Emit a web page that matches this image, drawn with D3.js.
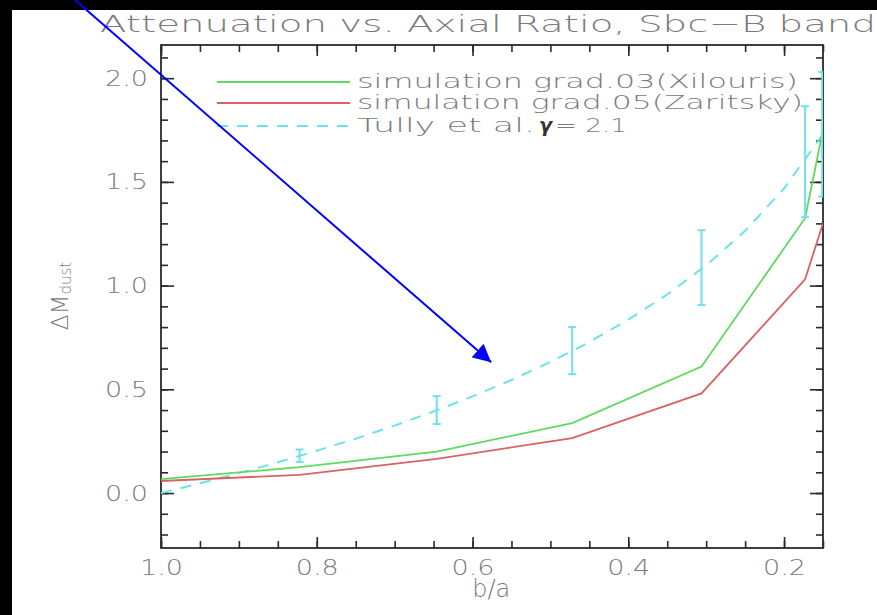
<!DOCTYPE html>
<html>
<head>
<meta charset="utf-8">
<script src="https://cdn.jsdelivr.net/npm/d3@7"></script>
<style>
  html, body { margin: 0; padding: 0; background: #000; }
  svg { display: block; }
  text { font-family: "DejaVu Sans", sans-serif; font-weight: 200; fill: #7a7a7a; }
</style>
</head>
<body>
<svg id="chart" width="877" height="615"></svg>
<script>
// Axial ratio b/a and attenuation values of the two simulations
const simRatio = [1.0, 0.822, 0.646, 0.472, 0.306, 0.173, 0.15];
const simXilouris = [0.067, 0.125, 0.20, 0.337, 0.61, 1.325, 1.75];
const simZaritsky = [0.058, 0.088, 0.165, 0.265, 0.48, 1.03, 1.30];

// Tully et al. relation (gamma = 2.1), sampled along b/a
const tullyRatio = [1.0, 0.95, 0.9, 0.85, 0.8, 0.75, 0.7, 0.65, 0.6, 0.55, 0.5, 0.45, 0.4, 0.35, 0.3, 0.25, 0.2, 0.15];
const tullyValue = [0.0, 0.047, 0.096, 0.148, 0.204, 0.262, 0.325, 0.393, 0.466, 0.545, 0.632, 0.728, 0.836, 0.957, 1.098, 1.264, 1.468, 1.73];

// Observed points with error bars
const obsRatio = [0.822, 0.646, 0.472, 0.306, 0.173, 0.151];
const obsValue = [0.18, 0.40, 0.69, 1.08, 1.60, 1.73];
const obsLow = [0.15, 0.333, 0.573, 0.906, 1.33, 1.43];
const obsHigh = [0.21, 0.467, 0.80, 1.267, 1.865, 2.03];

const xTicks = [1.0, 0.8, 0.6, 0.4, 0.2];
const yTicks = [0.0, 0.5, 1.0, 1.5, 2.0];

const legendLabels = ["simulation grad.03(Xilouris)", "simulation grad.05(Zaritsky)", "Tully et al."];

const colGreen = "#5fd95f", colRed = "#d96262", colCyan = "#6ee2ea";

const svg = d3.select("#chart");
svg.append("rect").attr("x", 12).attr("y", 10).attr("width", 865).attr("height", 605).attr("fill", "#fff");

const L = 161, R = 823, T = 45, B = 548;
const x = d3.scaleLinear().domain([1.0, 0.15]).range([L, R]);
const y = d3.scaleLinear().domain([-0.265, 2.16]).range([B, T]);

svg.append("defs").append("clipPath").attr("id", "plotClip")
  .append("rect").attr("x", L).attr("y", T).attr("width", R - L).attr("height", B - T);

const minorX = d3.range(1.0, 0.149, -0.05);
const minorY = d3.range(-0.2, 2.16, 0.1);

function styleAxis(g) {
  g.select(".domain").remove();
  g.selectAll(".tick line").attr("stroke", "#2a2a2a").attr("stroke-width", 1.6);
  g.selectAll(".tick text").attr("fill", "#7a7a7a").attr("font-size", 22)
    .attr("font-family", "DejaVu Sans, sans-serif").attr("font-weight", 200);
}

// bottom
svg.append("g").attr("transform", `translate(0,${B})`)
  .call(d3.axisBottom(x).tickValues(minorX).tickSizeInner(-7).tickSizeOuter(0).tickFormat(""))
  .call(styleAxis);
svg.append("g").attr("transform", `translate(0,${B})`)
  .call(d3.axisBottom(x).tickValues(xTicks).tickSizeInner(-11).tickSizeOuter(0).tickPadding(11).tickFormat(d3.format(".1f")))
  .call(styleAxis)
  .selectAll(".tick text").attr("textLength", 43).attr("lengthAdjust", "spacingAndGlyphs");
// top
svg.append("g").attr("transform", `translate(0,${T})`)
  .call(d3.axisTop(x).tickValues(minorX).tickSizeInner(-7).tickSizeOuter(0).tickFormat(""))
  .call(styleAxis);
svg.append("g").attr("transform", `translate(0,${T})`)
  .call(d3.axisTop(x).tickValues(xTicks).tickSizeInner(-11).tickSizeOuter(0).tickFormat(""))
  .call(styleAxis);
// left
svg.append("g").attr("transform", `translate(${L},0)`)
  .call(d3.axisLeft(y).tickValues(minorY).tickSizeInner(-7).tickSizeOuter(0).tickFormat(""))
  .call(styleAxis);
svg.append("g").attr("transform", `translate(${L},0)`)
  .call(d3.axisLeft(y).tickValues(yTicks).tickSizeInner(-13).tickSizeOuter(0).tickPadding(13).tickFormat(d3.format(".1f")))
  .call(styleAxis)
  .selectAll(".tick text").attr("textLength", 43).attr("lengthAdjust", "spacingAndGlyphs");
// right
svg.append("g").attr("transform", `translate(${R},0)`)
  .call(d3.axisRight(y).tickValues(minorY).tickSizeInner(-7).tickSizeOuter(0).tickFormat(""))
  .call(styleAxis);
svg.append("g").attr("transform", `translate(${R},0)`)
  .call(d3.axisRight(y).tickValues(yTicks).tickSizeInner(-13).tickSizeOuter(0).tickFormat(""))
  .call(styleAxis);

// frame
svg.append("rect").attr("x", L).attr("y", T).attr("width", R - L).attr("height", B - T)
  .attr("fill", "none").attr("stroke", "#2a2a2a").attr("stroke-width", 1.8);

const plot = svg.append("g").attr("clip-path", "url(#plotClip)");
const line = d3.line();

plot.append("path")
  .attr("d", line(tullyRatio.map((r, i) => [x(r), y(tullyValue[i])])))
  .attr("fill", "none").attr("stroke", colCyan).attr("stroke-width", 2).attr("stroke-dasharray", "11,9");

plot.append("path")
  .attr("d", line(simRatio.map((r, i) => [x(r), y(simZaritsky[i])])))
  .attr("fill", "none").attr("stroke", colRed).attr("stroke-width", 1.8);
plot.append("path")
  .attr("d", line(simRatio.map((r, i) => [x(r), y(simXilouris[i])])))
  .attr("fill", "none").attr("stroke", colGreen).attr("stroke-width", 1.8);

// error bars
const eb = plot.selectAll("g.eb").data(obsRatio.map((r, i) => ({r, lo: obsLow[i], hi: obsHigh[i]})))
  .enter().append("g").attr("stroke", colCyan).attr("stroke-width", 2);
eb.append("line").attr("x1", d => x(d.r)).attr("x2", d => x(d.r)).attr("y1", d => y(d.lo)).attr("y2", d => y(d.hi));
eb.append("line").attr("x1", d => x(d.r) - 4).attr("x2", d => x(d.r) + 4).attr("y1", d => y(d.lo)).attr("y2", d => y(d.lo));
eb.append("line").attr("x1", d => x(d.r) - 4).attr("x2", d => x(d.r) + 4).attr("y1", d => y(d.hi)).attr("y2", d => y(d.hi));

// legend
const legendColors = [colGreen, colRed, colCyan];
const legendY = [82, 103, 126];
const legendTextLen = [441, 446, 178];
legendLabels.forEach((lab, i) => {
  svg.append("line").attr("x1", 217).attr("x2", 350).attr("y1", legendY[i]).attr("y2", legendY[i])
    .attr("stroke", legendColors[i]).attr("stroke-width", 1.8)
    .attr("stroke-dasharray", i === 2 ? "11,9" : null);
  svg.append("text").attr("x", 357).attr("y", legendY[i] + 6).attr("font-size", 19)
    .attr("textLength", legendTextLen[i]).attr("lengthAdjust", "spacingAndGlyphs").text(lab);
});
const g3 = svg.append("text").attr("x", 539).attr("y", legendY[2] + 6).attr("font-size", 19);
g3.append("tspan").text("γ").attr("fill", "#333").attr("font-style", "italic").attr("font-weight", 700);
g3.append("tspan").text("= 2.1").attr("dx", 3).attr("textLength", 72).attr("lengthAdjust", "spacingAndGlyphs");

// title
svg.append("text").attr("x", 100).attr("y", 32).attr("font-size", 23)
  .attr("textLength", 776).attr("lengthAdjust", "spacingAndGlyphs")
  .text("Attenuation vs. Axial Ratio, Sbc\u2212B band");

// axis titles
svg.append("text").attr("x", x(0.576)).attr("y", 597).attr("font-size", 24).attr("text-anchor", "middle").text("b/a");
const yl = svg.append("text").attr("transform", "translate(68,296) rotate(-90)").attr("text-anchor", "middle").attr("font-size", 23);
yl.append("tspan").text("ΔM");
yl.append("tspan").text("dust").attr("font-size", 15).attr("dy", 3);

// annotation arrow
const arrowFrom = [1.11, 2.376], arrowTo = [0.576, 0.63];
const defs = svg.select("defs");
defs.append("marker").attr("id", "arrowHead").attr("viewBox", "0 0 10 10").attr("refX", 10).attr("refY", 5)
  .attr("markerWidth", 9).attr("markerHeight", 9).attr("markerUnits", "strokeWidth").attr("orient", "auto")
  .append("path").attr("d", "M0,0 L10,5 L0,10 Z").attr("fill", "#0000ff");
svg.append("line")
  .attr("x1", x(arrowFrom[0])).attr("y1", y(arrowFrom[1]))
  .attr("x2", x(arrowTo[0])).attr("y2", y(arrowTo[1]))
  .attr("stroke", "#0000ff").attr("stroke-width", 2).attr("marker-end", "url(#arrowHead)");
</script>
</body>
</html>
